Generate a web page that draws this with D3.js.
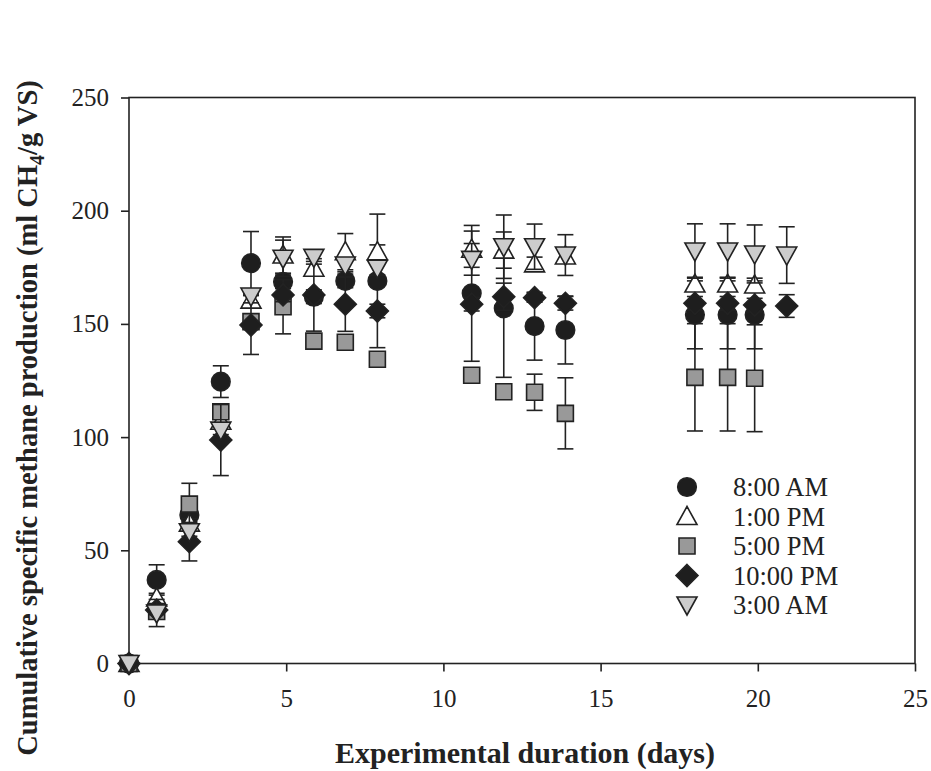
<!DOCTYPE html>
<html>
<head>
<meta charset="utf-8">
<script src="https://d3js.org/d3.v7.min.js"></script>
<style>
  body { margin: 0; background: #fff; }
  .axis text { font-family: "Liberation Serif", "Times New Roman", serif; font-size: 25px; fill: #222; }
  .axis line { stroke: #222; stroke-width: 1.6px; }
  .axis .domain { stroke: none; }
  .title { font-family: "Liberation Serif", "Times New Roman", serif; font-weight: bold; fill: #222; }
  .legend text { font-family: "Liberation Serif", "Times New Roman", serif; font-size: 26.5px; fill: #222; }
</style>
</head>
<body>
<svg id="chart" width="931" height="771"></svg>
<script>
// sampling days (as plotted)
const days = [0, 0.88, 1.92, 2.92, 3.88, 4.9, 5.88, 6.88, 7.9, 10.9, 11.92, 12.9, 13.88, 18.0, 19.04, 19.9, 20.92];

// mean cumulative methane (ml CH4/g VS), null = not measured
const am8  = [0, 36.9, 65.6, 124.5, 176.8, 168.6, 162.0, 169.0, 169.0, 163.5, 156.9, 149.0, 147.3, 154.0, 154.0, 154.0, null];
const pm1  = [0, 29.0, 62.0, 107.0, 160.5, 180.4, 174.6, 181.9, 181.9, 183.0, 182.6, 176.5, 180.0, 167.6, 167.6, 167.2, null];
const pm5  = [0, 23.0, 70.4, 111.2, 151.0, 157.6, 142.4, 141.9, 134.4, 127.3, 120.0, 119.8, 110.5, 126.4, 126.4, 126.0, null];
const pm10 = [0, 23.6, 53.8, 98.7, 149.5, 162.8, 162.8, 158.7, 155.7, 158.7, 162.0, 161.6, 159.1, 159.1, 159.1, 158.3, 157.9];
const am3  = [0, 22.3, 58.2, 103.1, 162.3, 179.0, 179.4, 176.0, 174.6, 178.5, 184.1, 184.1, 180.4, 182.2, 182.2, 180.9, 180.4];

// standard deviations
const am8Err  = [0, 6.7, 3, 7, 14, 3, 3, 3, 29.5, 30, 30.5, 15, 15, 15, 15, 15, null];
const pm1Err  = [0, 2, 2, 2, 3, 8, 3, 8, 3, 8, 8, 3, 3, 3, 3, 3, null];
const pm5Err  = [0, 2, 9.2, 2, 3, 12, 3, 3, 3, 3, 3, 8, 15.7, 23.7, 23.7, 23.6, null];
const pm10Err = [0, 2, 8.5, 15.7, 13, 3, 16, 12, 3, 3, 6, 2, 3, 3, 3, 3, 5];
const am3Err  = [0, 6, 2, 2, 3, 8, 3, 3, 3, 7, 14, 10, 9, 12, 12, 12.8, 12.5];

const seriesNames = ["8:00 AM", "1:00 PM", "5:00 PM", "10:00 PM", "3:00 AM"];
const xTicks = [0, 5, 10, 15, 20, 25];
const yTicks = [0, 50, 100, 150, 200, 250];

const series = [
  { name: seriesNames[0], vals: am8,  err: am8Err,  shape: "circle",   fill: "#1e1e1e" },
  { name: seriesNames[1], vals: pm1,  err: pm1Err,  shape: "triUp",    fill: "#ffffff" },
  { name: seriesNames[2], vals: pm5,  err: pm5Err,  shape: "square",   fill: "#999999" },
  { name: seriesNames[3], vals: pm10, err: pm10Err, shape: "diamond",  fill: "#1e1e1e" },
  { name: seriesNames[4], vals: am3,  err: am3Err,  shape: "triDown",  fill: "#cccccc" }
];

const svg = d3.select("#chart");
const plotL = 129, plotR = 915, plotT = 97.5, plotB = 663.5;

const x = d3.scaleLinear().domain([0, 25]).range([plotL, plotR]);
const y = d3.scaleLinear().domain([0, 250]).range([plotB, plotT]);

// marker path generator
function markerPath(shape) {
  if (shape === "circle") return d3.symbol().type(d3.symbolCircle).size(Math.PI * 9.3 * 9.3)();
  if (shape === "square") return "M-8,-8H8V8H-8Z";
  if (shape === "diamond") return "M0,-11L11,0L0,11L-11,0Z";
  if (shape === "triUp") return "M0,-10L10,8L-10,8Z";
  if (shape === "triDown") return "M0,10L10,-8L-10,-8Z";
}

// frame
svg.append("rect")
  .attr("x", plotL).attr("y", plotT)
  .attr("width", plotR - plotL).attr("height", plotB - plotT)
  .attr("fill", "none").attr("stroke", "#222").attr("stroke-width", 1.6);

// axes
svg.append("g")
  .attr("class", "axis")
  .attr("transform", "translate(0," + plotB + ")")
  .call(d3.axisBottom(x).tickValues(xTicks).tickSize(8).tickPadding(18).tickFormat(d3.format("d")));

svg.append("g")
  .attr("class", "axis")
  .attr("transform", "translate(" + plotL + ",0)")
  .call(d3.axisLeft(y).tickValues(yTicks).tickSize(8).tickPadding(12).tickFormat(d3.format("d")));

// data
const plot = svg.append("g");
series.forEach(s => {
  const pts = days.map((d, i) => ({ day: d, v: s.vals[i], e: s.err[i] })).filter(p => p.v !== null);
  const g = plot.append("g");

  const bars = g.selectAll("g.err").data(pts.filter(p => p.e > 0)).join("g").attr("class", "err")
    .attr("stroke", "#222").attr("stroke-width", 1.6);
  bars.append("line")
    .attr("x1", p => x(p.day)).attr("x2", p => x(p.day))
    .attr("y1", p => y(p.v + p.e)).attr("y2", p => y(p.v - p.e));
  bars.append("line")
    .attr("x1", p => x(p.day) - 8).attr("x2", p => x(p.day) + 8)
    .attr("y1", p => y(p.v + p.e)).attr("y2", p => y(p.v + p.e));
  bars.append("line")
    .attr("x1", p => x(p.day) - 8).attr("x2", p => x(p.day) + 8)
    .attr("y1", p => y(p.v - p.e)).attr("y2", p => y(p.v - p.e));

  g.selectAll("path.mark").data(pts).join("path").attr("class", "mark")
    .attr("d", markerPath(s.shape))
    .attr("transform", p => "translate(" + x(p.day) + "," + y(p.v) + ")")
    .attr("fill", s.fill).attr("stroke", "#222").attr("stroke-width", 1.6);
});

// legend
const legend = svg.append("g").attr("class", "legend");
const legendItem = legend.selectAll("g").data(series).join("g")
  .attr("transform", (d, i) => "translate(687," + (487 + i * 29.5) + ")");
legendItem.append("path")
  .attr("d", d => markerPath(d.shape))
  .attr("fill", d => d.fill).attr("stroke", "#222").attr("stroke-width", 1.6);
legendItem.append("text")
  .attr("x", 46).attr("y", 9)
  .text(d => d.name);

// axis titles
svg.append("text")
  .attr("class", "title")
  .attr("x", (plotL + plotR) / 2 + 3).attr("y", 763)
  .attr("text-anchor", "middle")
  .style("font-size", "30px")
  .text("Experimental duration (days)");

const yTitle = svg.append("text")
  .attr("class", "title")
  .attr("transform", "translate(37,418) rotate(-90)")
  .attr("text-anchor", "middle")
  .style("font-size", "28.5px");
yTitle.append("tspan").text("Cumulative specific methane production (ml CH");
yTitle.append("tspan").attr("dy", 7).style("font-size", "20px").text("4");
yTitle.append("tspan").attr("dy", -7).text("/g VS)");
</script>
</body>
</html>
